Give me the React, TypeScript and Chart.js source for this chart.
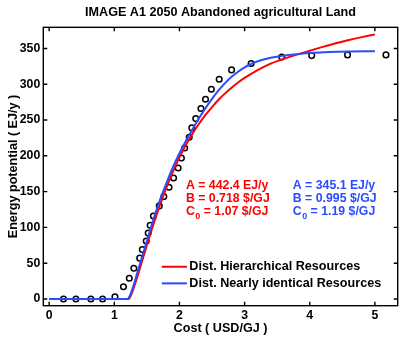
import { useEffect, useRef } from "react";
import { Chart, registerables } from "chart.js";

Chart.register(...registerables);

// ---------- data ----------
const chartTitle = "IMAGE A1 2050 Abandoned agricultural Land";
const xAxisTitle = "Cost ( USD/GJ )";
const yAxisTitle = "Energy potential ( EJ/y )";

const xTicks = [0, 1, 2, 3, 4, 5];
const yTicks = [0, 50, 100, 150, 200, 250, 300, 350];

// observed cost-supply points (open circles)
const pointCost = [
  0.22, 0.41, 0.64, 0.82, 1.01, 1.14, 1.23, 1.3, 1.39, 1.43, 1.49, 1.52, 1.55, 1.6,
  1.69, 1.76, 1.84, 1.91, 1.98, 2.03, 2.08, 2.15, 2.19, 2.25, 2.33, 2.4, 2.49, 2.61,
  2.8, 3.1, 3.57, 4.03, 4.58, 5.17,
];
const pointPotential = [
  0, 0, 0, 0, 3, 17, 29, 43, 57, 69, 81, 92, 103, 116,
  130, 143, 156, 169, 183, 197, 211, 226, 239, 252, 266, 279, 293, 307,
  320, 329, 338, 340, 341, 341,
];

// red curve: hierarchical resources
const hierCost = [
  0, 1.22, 1.26, 1.3, 1.35, 1.4, 1.5, 1.6, 1.7, 1.8, 1.9, 2.0, 2.1, 2.2, 2.3, 2.4,
  2.5, 2.6, 2.7, 2.8, 2.9, 3.0, 3.2, 3.4, 3.6, 3.8, 4.0, 4.2, 4.4, 4.6, 4.8, 5.0,
];
const hierPotential = [
  0, 0, 6, 16, 30, 45, 75, 104, 131, 156, 178, 198, 215.5, 231, 244.8, 257.1,
  268.1, 278.3, 287.2, 295.2, 302.4, 308.8, 319.8, 328.8, 335.5, 341.3, 346.8, 352.2,
  357.2, 361.7, 365.8, 369.6,
];

// blue curve: nearly identical resources
const identCost = [
  0, 1.2, 1.25, 1.3, 1.35, 1.4, 1.5, 1.6, 1.7, 1.8, 1.9, 2.0, 2.1, 2.2, 2.3, 2.4,
  2.5, 2.6, 2.7, 2.8, 2.9, 3.0, 3.1, 3.25, 3.4, 3.57, 3.8, 4.0, 4.3, 4.6, 5.0,
];
const identPotential = [
  0, 0, 7, 20, 36, 51, 81, 111, 138, 162, 184, 203.5, 221, 237.2, 252.4, 266.6,
  279.6, 291.3, 301.5, 310.3, 317.5, 323.5, 328.3, 333.5, 337.1, 339.6, 342, 343.5, 345,
  345.7, 346,
];

const seriesNames = ["Dist. Hierarchical Resources", "Dist. Nearly identical Resources"];
const seriesColors = ["#ff0000", "#2a4bff"];

// fitted parameters shown as annotations
const paramNames = ["A", "B", "C"];
const paramSubscripts = ["", "", "0"];
const hierParams = ["442.4 EJ/y", "0.718 $/GJ", "1.07 $/GJ"];
const identParams = ["345.1 EJ/y", "0.995 $/GJ", "1.19 $/GJ"];

const FAMILY = "'Liberation Sans', Arial, Helvetica, sans-serif";

export default function App() {
  const ref = useRef<HTMLCanvasElement>(null);

  useEffect(() => {
    document.body.style.margin = "0";
    const canvas = ref.current;
    if (!canvas) return;

    const matlabPlugin = {
      id: "matlabLook",
      beforeDraw(chart: any) {
        const { ctx, width, height } = chart;
        ctx.save();
        ctx.fillStyle = "#ffffff";
        ctx.fillRect(0, 0, width, height);
        ctx.restore();
      },
      afterDraw(chart: any) {
        const { ctx, chartArea } = chart;
        const xs = chart.scales.x;
        const ys = chart.scales.y;
        const { left, right, top, bottom } = chartArea;
        ctx.save();
        // frame
        ctx.strokeStyle = "#000";
        ctx.lineWidth = 1.4;
        ctx.strokeRect(left, top, right - left, bottom - top);
        // inward ticks
        const tl = 4;
        ctx.beginPath();
        xTicks.forEach((v) => {
          const p = xs.getPixelForValue(v);
          ctx.moveTo(p, bottom);
          ctx.lineTo(p, bottom - tl);
          ctx.moveTo(p, top);
          ctx.lineTo(p, top + tl);
        });
        yTicks.forEach((v) => {
          const p = ys.getPixelForValue(v);
          ctx.moveTo(left, p);
          ctx.lineTo(left + tl, p);
          ctx.moveTo(right, p);
          ctx.lineTo(right - tl, p);
        });
        ctx.stroke();

        // legend (inside, no box)
        const lx = xs.getPixelForValue(1.73);
        const ly = ys.getPixelForValue(45);
        ctx.font = `bold 12.6px ${FAMILY}`;
        ctx.textBaseline = "middle";
        ctx.textAlign = "left";
        seriesNames.forEach((name, i) => {
          const y = ly + i * 16.6;
          ctx.strokeStyle = seriesColors[i];
          ctx.lineWidth = 2;
          ctx.beginPath();
          ctx.moveTo(lx, y);
          ctx.lineTo(lx + 25, y);
          ctx.stroke();
          ctx.fillStyle = "#000";
          ctx.fillText(name, lx + 27.5, y);
        });

        // parameter annotations
        const groups = [
          { x: 2.1, values: hierParams, color: seriesColors[0] },
          { x: 3.74, values: identParams, color: seriesColors[1] },
        ];
        const y0 = ys.getPixelForValue(159);
        groups.forEach((g) => {
          const gx = xs.getPixelForValue(g.x);
          ctx.fillStyle = g.color;
          g.values.forEach((val, i) => {
            const y = y0 + i * 13;
            ctx.font = `bold 12.3px ${FAMILY}`;
            let cx = gx;
            ctx.fillText(paramNames[i], cx, y);
            cx += ctx.measureText(paramNames[i]).width;
            if (paramSubscripts[i]) {
              ctx.font = `bold 9px ${FAMILY}`;
              ctx.fillText(paramSubscripts[i], cx + 0.5, y + 5);
              cx += ctx.measureText(paramSubscripts[i]).width + 0.5;
              ctx.font = `bold 12.3px ${FAMILY}`;
            }
            ctx.fillText(" = " + val, cx, y);
          });
        });
        ctx.restore();
      },
    };

    const tickFont = { size: 12.3, weight: "bold" as const, family: FAMILY };
    const labelFont = { size: 12.6, weight: "bold" as const, family: FAMILY };

    const chart = new Chart(canvas, {
      type: "scatter",
      data: {
        datasets: [
          {
            label: seriesNames[1],
            data: identCost.map((c, i) => ({ x: c, y: identPotential[i] })),
            showLine: true,
            borderColor: seriesColors[1],
            backgroundColor: seriesColors[1],
            borderWidth: 2,
            pointRadius: 0,
            cubicInterpolationMode: "monotone",
            order: 0,
          },
          {
            label: seriesNames[0],
            data: hierCost.map((c, i) => ({ x: c, y: hierPotential[i] })),
            showLine: true,
            borderColor: seriesColors[0],
            backgroundColor: seriesColors[0],
            borderWidth: 2,
            pointRadius: 0,
            cubicInterpolationMode: "monotone",
            order: 1,
          },
          {
            label: "Data",
            data: pointCost.map((c, i) => ({ x: c, y: pointPotential[i] })),
            showLine: false,
            pointRadius: 2.8,
            pointBorderWidth: 1.5,
            pointBorderColor: "#000",
            pointBackgroundColor: "rgba(0,0,0,0)",
            borderColor: "#000",
            backgroundColor: "rgba(0,0,0,0)",
            order: 2,
          },
        ],
      },
      options: {
        responsive: false,
        animation: false,
        devicePixelRatio: 1,
        layout: { padding: { left: 0, right: 17.3, top: 0, bottom: 0 } },
        plugins: {
          legend: { display: false },
          tooltip: { enabled: false },
          title: {
            display: true,
            text: chartTitle,
            fullSize: false,
            color: "#000",
            font: labelFont,
            padding: { top: 5.4, bottom: 6.8 },
          },
        },
        scales: {
          x: {
            type: "linear",
            position: "bottom",
            min: -0.09,
            max: 5.35,
            afterBuildTicks: (s: any) => {
              s.ticks = xTicks.map((v) => ({ value: v }));
            },
            afterFit: (s: any) => {
              s.height = 31.3;
            },
            grid: { display: false, drawTicks: false },
            border: { display: false },
            ticks: {
              font: tickFont,
              color: "#000",
              padding: 3,
              maxRotation: 0,
              autoSkip: false,
              callback: (v: any) => String(v),
            },
            title: {
              display: true,
              text: xAxisTitle,
              color: "#000",
              font: labelFont,
              padding: { top: 0, bottom: 1.2 },
            },
          },
          y: {
            type: "linear",
            min: -9.4,
            max: 379.5,
            afterBuildTicks: (s: any) => {
              s.ticks = yTicks.map((v) => ({ value: v }));
            },
            afterFit: (s: any) => {
              s.width = 43.3;
            },
            grid: { display: false, drawTicks: false },
            border: { display: false },
            ticks: {
              font: tickFont,
              color: "#000",
              padding: 3,
              autoSkip: false,
              callback: (v: any) => String(v),
            },
            title: {
              display: true,
              text: yAxisTitle,
              color: "#000",
              font: labelFont,
              padding: { top: 5.6, bottom: 0 },
            },
          },
        },
      },
      plugins: [matlabPlugin],
    } as any);

    return () => chart.destroy();
  }, []);

  return (
    <div style={{ width: 415, height: 337 }}>
      <canvas ref={ref} width={415} height={337} style={{ display: "block" }} />
    </div>
  );
}
